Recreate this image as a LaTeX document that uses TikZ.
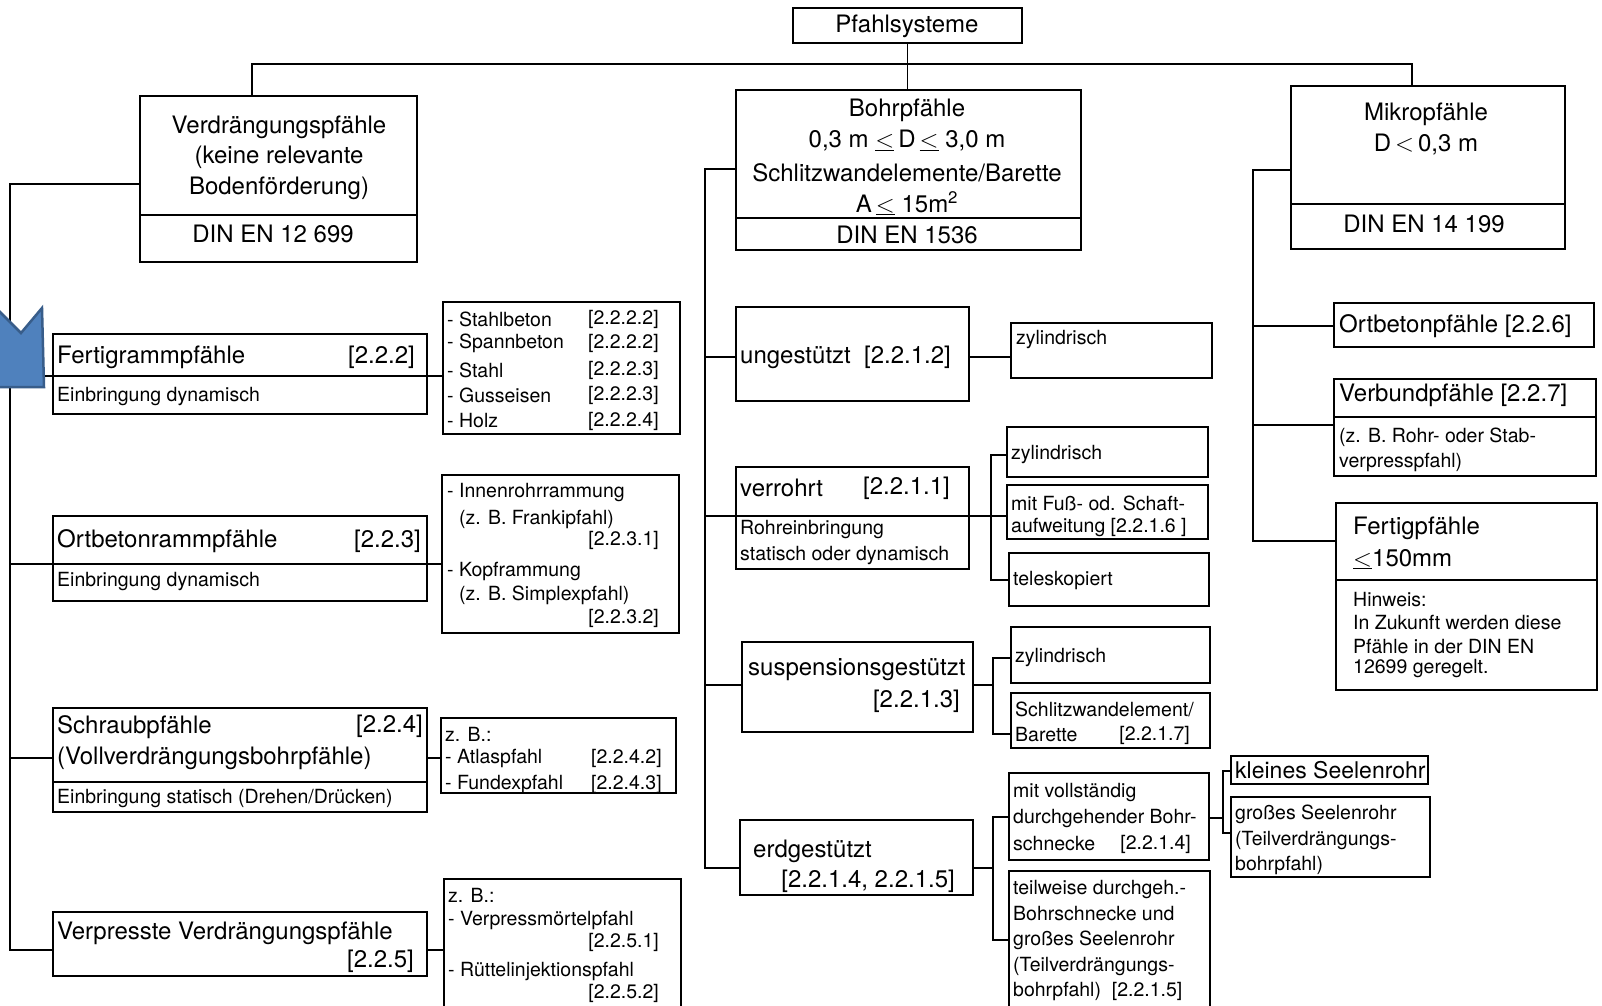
\documentclass[tikz,border=0pt]{standalone}
\usepackage{fontspec}
\setmainfont{TeX Gyre Heros}
\newcommand\uleq{\ensuremath{\underline{<}}}
\newcommand\Bx[5]{\node[bx, minimum width={(#4)-(#2)}, minimum height={(#5)-(#3)}] (#1) at ({((#2)+(#4))/2},{((#3)+(#5))/2}) {};}
\definecolor{arrfill}{RGB}{79,129,189}
\definecolor{arrline}{RGB}{56,93,138}
\begin{document}
\begin{tikzpicture}[x=1pt,y=-1pt,
  bx/.style={draw, line width=1.6pt, rectangle, inner sep=0pt, outer sep=0pt},
  ln/.style={line width=1.6pt},
  L/.style={font=\fontsize{24}{29}\selectfont, inner sep=0pt},
  M/.style={font=\fontsize{23}{28}\selectfont, inner sep=0pt},
  S/.style={font=\fontsize{19.5}{24}\selectfont, inner sep=0pt}]
\fill[white] (0,0) rectangle (1602,1005);
\useasboundingbox (0,0) rectangle (1602,1005);

% ---------- boxes ----------
\Bx{pfs}{793}{8}{1022}{43}
\Bx{verd}{140}{96}{417}{262}
\Bx{bohr}{736}{90}{1081}{250}
\Bx{mikro}{1291}{86}{1565}{249}
\Bx{fert}{53}{334}{427}{414}
\Bx{list1}{443}{302}{680}{434}
\Bx{ortb}{53}{516}{427}{601}
\Bx{list2}{442}{475}{679}{633}
\Bx{schr}{53}{708}{427}{812}
\Bx{list3}{441}{718}{676}{793}
\Bx{verp}{53}{912}{427}{976}
\Bx{list4}{444}{879}{681}{1015}
\Bx{ung}{736}{307}{969}{401}
\Bx{zyl1}{1011}{323}{1212}{378}
\Bx{verr}{736}{467}{969}{569}
\Bx{zyl2}{1007}{427}{1208}{477}
\Bx{mitf}{1007}{485}{1208}{539}
\Bx{tele}{1009}{553}{1209}{606}
\Bx{susp}{742}{642}{973}{732}
\Bx{zyl3}{1011}{627}{1210}{683}
\Bx{schl}{1011}{693}{1210}{748}
\Bx{erd}{740}{820}{973}{895}
\Bx{mitv}{1009}{773}{1209}{860}
\Bx{teil}{1009}{871}{1210}{1015}
\Bx{klein}{1231}{756}{1428}{784}
\Bx{gross}{1231}{797}{1430}{877}
\Bx{ortp}{1334}{303}{1594}{347}
\Bx{verb}{1334}{379}{1596}{476}
\Bx{fert2}{1336}{503}{1597}{690}

% dividers inside boxes
\draw[ln] (140,215) -- (417,215);
\draw[ln] (736,218) -- (1081,218);
\draw[ln] (1291,204) -- (1565,204);
\draw[ln] (53,782) -- (427,782);
\draw[ln] (1334,417) -- (1596,417);
\draw[ln] (1336,580) -- (1597,580);

% ---------- texts ----------
\node[L] (tpfs) at (907,26) {Pfahlsysteme};
\node[L] (tv1) at (279,127) {Verdrängungspfähle};
\node[L] (tv2) at (279,157) {(keine relevante};
\node[L] (tv3) at (279,188) {Bodenförderung)};
\node[L] (tv4) at (273,234) {DIN EN 12 699};
\node[L] (tb1) at (907,110) {Bohrpfähle};
\node[L] (tb2) at (907,141) {0,3 m \uleq\,D\,\uleq\ 3,0 m};
\node[L] (tb3) at (907,173) {Schlitzwandelemente/Barette};
\node[L] (tb4) at (907,203) {A\,\uleq\ 15m\textsuperscript{2}};
\node[L] (tb5) at (907,235) {DIN EN 1536};
\node[L] (tm1) at (1426,114) {Mikropfähle};
\node[L] (tm2) at (1426,145) {D\,$<$\,0,3 m};
\node[L] (tm3) at (1424,224) {DIN EN 14 199};

\node[L,anchor=west] (tf1) at (57,357) {Fertigrammpfähle};
\node[L,anchor=east] (tf2) at (415,357) {[2.2.2]};
\node[S,anchor=west] (tf3) at (57,397) {Einbringung dynamisch};
\node[S,anchor=west] (l11) at (447,319) {- Stahlbeton};
\node[S,anchor=west] (l12) at (447,343) {- Spannbeton};
\node[S,anchor=west] (l13) at (447,370) {- Stahl};
\node[S,anchor=west] (l14) at (447,395) {- Gusseisen};
\node[S,anchor=west] (l15) at (447,421) {- Holz};
\node[S,anchor=west] (r11) at (588,319) {[2.2.2.2]};
\node[S,anchor=west] (r12) at (588,343) {[2.2.2.2]};
\node[S,anchor=west] (r13) at (588,370) {[2.2.2.3]};
\node[S,anchor=west] (r14) at (588,395) {[2.2.2.3]};
\node[S,anchor=west] (r15) at (588,421) {[2.2.2.4]};

\node[L,anchor=west] (to1) at (57,541) {Ortbetonrammpfähle};
\node[L,anchor=east] (to2) at (421,541) {[2.2.3]};
\node[S,anchor=west] (to3) at (57,582) {Einbringung dynamisch};
\node[S,anchor=west] (l21) at (447,493) {- Innenrohrrammung};
\node[S,anchor=west] (l22) at (459,519) {(z. B. Frankipfahl)};
\node[S,anchor=east] (l23) at (659,540) {[2.2.3.1]};
\node[S,anchor=west] (l24) at (447,571) {- Kopframmung};
\node[S,anchor=west] (l25) at (459,595) {(z. B. Simplexpfahl)};
\node[S,anchor=east] (l26) at (659,618) {[2.2.3.2]};

\node[L,anchor=west] (ts1) at (57,727) {Schraubpfähle};
\node[L,anchor=east] (ts2) at (423,726) {[2.2.4]};
\node[L,anchor=west] (ts3) at (57,758) {(Vollverdrängungsbohrpfähle)};
\node[S,anchor=west] (ts4) at (57,798) {Einbringung statisch (Drehen/Drücken)};
\node[S,anchor=west] (l31) at (445,734) {z. B.:};
\node[S,anchor=west] (l32) at (445,758) {- Atlaspfahl};
\node[S,anchor=west] (l33) at (445,784) {- Fundexpfahl};
\node[S,anchor=west] (r32) at (591,758) {[2.2.4.2]};
\node[S,anchor=west] (r33) at (591,784) {[2.2.4.3]};

\node[L,anchor=west] (tp1) at (57,933) {Verpresste Verdrängungspfähle};
\node[L,anchor=east] (tp2) at (414,961) {[2.2.5]};
\node[S,anchor=west] (l41) at (448,895) {z. B.:};
\node[S,anchor=west] (l42) at (448,920) {- Verpressmörtelpfahl};
\node[S,anchor=east] (l43) at (659,942) {[2.2.5.1]};
\node[S,anchor=west] (l44) at (448,971) {- Rüttelinjektionspfahl};
\node[S,anchor=east] (l45) at (659,993) {[2.2.5.2]};

\node[L,anchor=west] (tu1) at (740,357) {ungestützt~~[2.2.1.2]};
\node[S,anchor=west] (tz1) at (1016,340) {zylindrisch};
\node[L,anchor=west] (tr1) at (740,488) {verrohrt};
\node[L,anchor=east] (tr2) at (950,488) {[2.2.1.1]};
\node[S,anchor=west] (tr3) at (740,530) {Rohreinbringung};
\node[S,anchor=west] (tr4) at (740,556) {statisch oder dynamisch};
\node[S,anchor=west] (tz2) at (1011,455) {zylindrisch};
\node[S,anchor=west] (tmf1) at (1011,503) {mit Fuß- od. Schaft-};
\node[S,anchor=west] (tmf2) at (1011,527) {aufweitung [2.2.1.6 ]};
\node[S,anchor=west] (tte) at (1013,581) {teleskopiert};
\node[L,anchor=west] (tsu1) at (748,670) {suspensionsgestützt};
\node[L,anchor=east] (tsu2) at (960,701) {[2.2.1.3]};
\node[S,anchor=west] (tz3) at (1015,658) {zylindrisch};
\node[S,anchor=west] (tsl1) at (1015,709) {Schlitzwandelement/};
\node[S,anchor=west] (tsl2) at (1015,735) {Barette};
\node[S,anchor=east] (tsl3) at (1190,735) {[2.2.1.7]};
\node[L,anchor=west] (te1) at (753,851) {erdgestützt};
\node[L,anchor=east] (te2) at (955,881) {[2.2.1.4, 2.2.1.5]};
\node[S,anchor=west] (tmv1) at (1013,793) {mit vollständig};
\node[S,anchor=west] (tmv2) at (1013,818) {durchgehender Bohr-};
\node[S,anchor=west] (tmv3) at (1013,844) {schnecke};
\node[S,anchor=east] (tmv4) at (1191,844) {[2.2.1.4]};
\node[S,anchor=west] (tt1) at (1013,889) {teilweise durchgeh.-};
\node[S,anchor=west] (tt2) at (1013,914) {Bohrschnecke und};
\node[S,anchor=west] (tt3) at (1013,940) {großes Seelenrohr};
\node[S,anchor=west] (tt4) at (1013,966) {(Teilverdrängungs-};
\node[S,anchor=west] (tt5) at (1013,991) {bohrpfahl)~~[2.2.1.5]};
\node[M,anchor=west] (tk) at (1235,770) {kleines Seelenrohr};
\node[S,anchor=west] (tg1) at (1235,814) {großes Seelenrohr};
\node[S,anchor=west] (tg2) at (1235,840) {(Teilverdrängungs-};
\node[S,anchor=west] (tg3) at (1235,865) {bohrpfahl)};

\node[L,anchor=west] (tor) at (1339,326) {Ortbetonpfähle [2.2.6]};
\node[L,anchor=west] (tvb1) at (1339,395) {Verbundpfähle [2.2.7]};
\node[S,anchor=west] (tvb2) at (1339,437) {(z. B. Rohr- oder Stab-};
\node[S,anchor=west] (tvb3) at (1339,462) {verpresspfahl)};
\node[L,anchor=west] (tfp1) at (1353,528) {Fertigpfähle};
\node[L,anchor=west] (tfp2) at (1353,559) {\uleq150mm};
\node[S,anchor=west] (tfp3) at (1353,600) {Hinweis:};
\node[S,anchor=west] (tfp4) at (1353,622) {In Zukunft werden diese};
\node[S,anchor=west] (tfp5) at (1353,646) {Pfähle in der DIN EN};
\node[S,anchor=west] (tfp6) at (1353,669) {12699 geregelt.};

% ---------- connectors ----------
\coordinate (tl) at (252,64);
\coordinate (tr) at (1412,64);
\draw[ln] (pfs.south) -- (pfs.south |- bohr.north);
\draw[ln] (verd.north -| tl) -- (tl) -- (tr) -- (mikro.north -| tr);

% left column
\coordinate (lst) at (10,184);
\coordinate (lsb) at (10,950);
\coordinate (c1) at (10,376);
\coordinate (c2) at (10,564);
\coordinate (c3) at (10,758);
\draw[ln] (lst -| verd.west) -- (lst) -- (lsb) -- (lsb -| verp.west);
\draw[ln] (c1) -- (c1 -| list1.west);
\draw[ln] (c2) -- (c2 -| list2.west);
\draw[ln] (c3) -- (c3 -| schr.west);
\draw[ln] (c3 -| schr.east) -- (c3 -| list3.west);
\draw[ln] (lsb -| verp.east) -- (lsb -| list4.west);

% middle column
\coordinate (mst) at (705,169);
\coordinate (msb) at (705,868);
\coordinate (m1) at (705,357);
\coordinate (m2) at (705,516);
\coordinate (m3) at (705,685);
\draw[ln] (mst -| bohr.west) -- (mst) -- (msb) -- (msb -| erd.west);
\draw[ln] (m1) -- (m1 -| ung.west);
\draw[ln] (m1 -| ung.east) -- (m1 -| zyl1.west);
\draw[ln] (m2) -- (m2 -| mitf.west);
\coordinate (v1) at (991,455);
\coordinate (v2) at (991,580);
\draw[ln] (v1 -| zyl2.west) -- (v1) -- (v2) -- (v2 -| tele.west);
\draw[ln] (m3) -- (m3 -| susp.west);
\coordinate (s1) at (993,658);
\coordinate (s2) at (993,734);
\draw[ln] (s1 -| zyl3.west) -- (s1) -- (s2) -- (s2 -| schl.west);
\draw[ln] (m3 -| susp.east) -- (m3 -| s1);
\coordinate (e1) at (993,817);
\coordinate (e2) at (993,940);
\draw[ln] (e1 -| mitv.west) -- (e1) -- (e2) -- (e2 -| teil.west);
\draw[ln] (msb -| erd.east) -- (msb -| e1);
\coordinate (k1) at (1223,771);
\coordinate (k2) at (1223,833);
\coordinate (k3) at (1223,818);
\draw[ln] (k1 -| klein.west) -- (k1) -- (k2) -- (k2 -| gross.west);
\draw[ln] (k3 -| mitv.east) -- (k3);

% right column
\coordinate (rst) at (1253,170);
\coordinate (rsb) at (1253,541);
\coordinate (r1) at (1253,326);
\coordinate (r2) at (1253,425);
\draw[ln] (rst -| mikro.west) -- (rst) -- (rsb) -- (rsb -| fert2.west);
\draw[ln] (r1) -- (r1 -| ortp.west);
\draw[ln] (r2) -- (r2 -| verb.west);

% blue marker
\filldraw[fill=arrfill, draw=arrline, line width=2.5pt, line join=miter]
  (-4,308) -- (21,333) -- (42,308) -- (44,387) -- (-4,387) -- cycle;
\end{tikzpicture}
\end{document}
